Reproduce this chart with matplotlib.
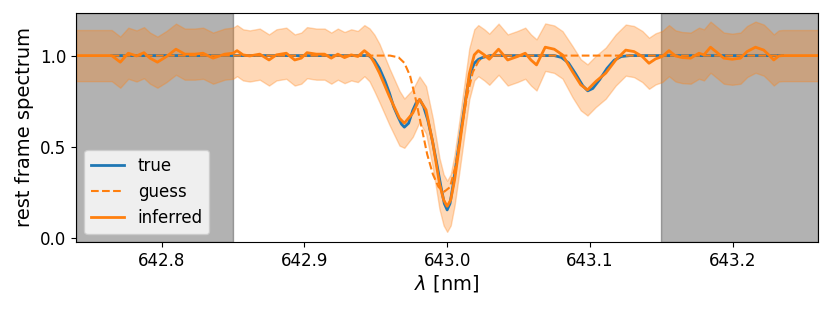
import matplotlib
matplotlib.use("Agg")
import matplotlib.pyplot as plt
import numpy as np

# wavelength limits of the masked (grey) regions
mask_lo = 642.85
mask_hi = 643.15

# true spectrum
true_wl = [642.765, 642.945, 642.949, 642.9526, 642.9565, 642.9596, 642.9625, 642.9655,
           642.968, 642.970, 642.973, 642.9759, 642.9785, 642.981, 642.9835, 642.9864,
           642.9895, 642.9922, 642.9957, 642.998, 643.000, 643.002, 643.0039, 643.0074,
           643.0108, 643.0143, 643.0165, 643.019, 643.022, 643.025, 643.030, 643.075,
           643.080, 643.085, 643.090, 643.095, 643.0985, 643.102, 643.107, 643.112,
           643.117, 643.122, 643.128, 643.235]
true_flux = [1.0, 1.0, 0.975, 0.93, 0.86, 0.794, 0.72, 0.666,
             0.625, 0.608, 0.63, 0.70, 0.745, 0.757, 0.72, 0.648,
             0.54, 0.43, 0.28, 0.19, 0.155, 0.19, 0.28, 0.465,
             0.648, 0.83, 0.91, 0.958, 0.98, 0.99, 1.0, 1.0,
             0.99, 0.96, 0.90, 0.835, 0.807, 0.82, 0.87, 0.93,
             0.975, 0.995, 1.0, 1.0]

# initial guess
guess_wl = [642.765, 642.960, 642.966, 642.970, 642.974, 642.978, 642.982, 642.986,
            642.990, 642.994, 642.998, 643.002, 643.006, 643.010, 643.014, 643.018,
            643.022, 643.026, 643.030, 643.235]
guess_flux = [1.0, 1.0, 0.99, 0.96, 0.89, 0.76, 0.61, 0.46,
              0.35, 0.28, 0.255, 0.28, 0.40, 0.60, 0.78, 0.91,
              0.97, 0.995, 1.0, 1.0]

# inferred spectrum and its uncertainty
inf_wl = [642.740, 642.765, 642.771, 642.7766, 642.7824, 642.7876, 642.7918, 642.797,
          642.8034, 642.810, 642.8162, 642.8232, 642.829, 642.836, 642.8442, 642.850,
          642.8528, 642.857, 642.8617, 642.8687, 642.8752, 642.8804, 642.8873, 642.8932,
          642.8978, 642.9018, 642.9083, 642.9141, 642.9188, 642.9234, 642.9281, 642.9328,
          642.9374, 642.942, 642.9456, 642.949, 642.9526, 642.9596, 642.9666, 642.970,
          642.9759, 642.9806, 642.9852, 642.990, 642.9946, 642.9975, 643.000, 643.0025,
          643.0052, 643.0085, 643.012, 643.0155, 643.019, 643.0218, 643.026, 643.0295,
          643.036, 643.0424, 643.0493, 643.0547, 643.0587, 643.0626, 643.0687, 643.075,
          643.0808, 643.0878, 643.0936, 643.0983, 643.1041, 643.1111, 643.1181, 643.1251,
          643.1309, 643.1367, 643.1414, 643.146, 643.1507, 643.1554, 643.160, 643.1647,
          643.1706, 643.1764, 643.1799, 643.1845, 643.1892, 643.1938, 643.1997, 643.2055,
          643.2101, 643.216, 643.2218, 643.2253, 643.2288, 643.2323, 643.235, 643.260]
inf_flux = [1.0, 1.0, 0.964, 1.013, 0.998, 1.016, 0.986, 0.964,
            0.995, 1.035, 1.008, 1.008, 1.013, 0.986, 1.008, 1.013,
            1.027, 1.004, 0.998, 1.008, 0.976, 1.004, 1.013, 0.976,
            0.986, 1.016, 1.008, 1.008, 0.986, 1.008, 0.989, 1.004,
            0.995, 1.027, 1.004, 0.96, 0.904, 0.775, 0.657, 0.630,
            0.685, 0.761, 0.703, 0.520, 0.300, 0.21, 0.175, 0.21,
            0.319, 0.500, 0.700, 0.900, 1.004, 1.027, 1.004, 0.980,
            1.035, 0.976, 0.995, 1.013, 0.976, 0.949, 1.046, 1.035,
            1.004, 0.912, 0.840, 0.812, 0.858, 0.904, 0.976, 1.030,
            1.022, 0.995, 0.958, 0.982, 0.995, 1.027, 0.998, 0.989,
            0.986, 1.013, 1.004, 1.046, 1.016, 0.986, 0.980, 0.986,
            1.022, 1.046, 1.030, 1.004, 0.976, 0.998, 1.0, 1.0]
inf_err = [0.14, 0.14, 0.14, 0.14, 0.14, 0.14, 0.14, 0.14,
           0.14, 0.14, 0.14, 0.14, 0.14, 0.14, 0.14, 0.14,
           0.14, 0.14, 0.14, 0.14, 0.14, 0.14, 0.14, 0.14,
           0.14, 0.14, 0.14, 0.14, 0.14, 0.14, 0.14, 0.14,
           0.14, 0.14, 0.145, 0.155, 0.16, 0.155, 0.15, 0.135,
           0.13, 0.125, 0.13, 0.135, 0.14, 0.14, 0.14, 0.14,
           0.14, 0.14, 0.14, 0.14, 0.14, 0.14, 0.14, 0.14,
           0.14, 0.14, 0.14, 0.14, 0.14, 0.14, 0.13, 0.13,
           0.13, 0.14, 0.14, 0.14, 0.14, 0.14, 0.14, 0.14,
           0.14, 0.14, 0.14, 0.14, 0.14, 0.14, 0.14, 0.14,
           0.14, 0.14, 0.14, 0.14, 0.14, 0.14, 0.14, 0.14,
           0.14, 0.14, 0.14, 0.14, 0.14, 0.14, 0.14, 0.14]

inf_flux = np.array(inf_flux)
inf_err = np.array(inf_err)

fig = plt.figure(figsize=(8.31, 3.09), dpi=100)
ax = fig.add_axes([0.0915, 0.216, 0.8932, 0.743])

ax.axvspan(642.74, mask_lo, color='k', alpha=0.3)
ax.axvspan(mask_hi, 643.26, color='k', alpha=0.3)

ax.plot(true_wl, true_flux, color='C0', lw=2, label='true')
ax.plot(guess_wl, guess_flux, color='C1', ls='--', lw=1.5, label='guess')
ax.plot(inf_wl, inf_flux, color='C1', lw=2, label='inferred')
ax.fill_between(inf_wl, inf_flux - inf_err, inf_flux + inf_err, color='C1', alpha=0.3)

ax.set_xlim(642.74, 643.26)
ax.set_ylim(-0.022, 1.235)
ax.set_xticks([642.8, 642.9, 643.0, 643.1, 643.2])
ax.set_yticks([0.0, 0.5, 1.0])
ax.tick_params(labelsize=12)
ax.set_xlabel(r'$\lambda$ [nm]', fontsize=14, labelpad=2)
ax.set_ylabel('rest frame spectrum', fontsize=14)
ax.legend(loc='lower left', fontsize=12)

plt.savefig('out.png', dpi=100)
